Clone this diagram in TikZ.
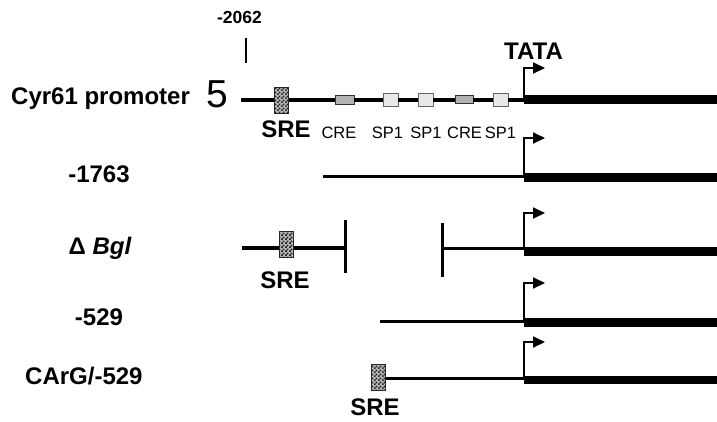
\documentclass[tikz,border=0pt]{standalone}
\usepackage{fontspec}
\setmainfont{Liberation Sans}
\usetikzlibrary{arrows.meta,patterns}
\pgfdeclarepatternformonly{finecheck}{\pgfpointorigin}{\pgfqpoint{3.6pt}{3.6pt}}{\pgfqpoint{3.6pt}{3.6pt}}{%
  \pgfpathrectangle{\pgfpointorigin}{\pgfqpoint{1.85pt}{1.85pt}}%
  \pgfpathrectangle{\pgfqpoint{1.8pt}{1.8pt}}{\pgfqpoint{1.85pt}{1.85pt}}%
  \pgfusepath{fill}}
\tikzset{
  lab/.style={font=\fontsize{24}{28}\selectfont\bfseries, inner sep=0pt},
  smalllab/.style={font=\fontsize{17.5}{20}\selectfont\bfseries, inner sep=0pt},
  sitelab/.style={font=\fontsize{16.5}{20}\selectfont, inner sep=0pt, anchor=base},
  bigfive/.style={font=\fontsize{39}{44}\selectfont, inner sep=0pt, anchor=base},
  thindna/.style={line width=3.2pt},
  thickdna/.style={line width=8.8pt},
  cutbar/.style={line width=3pt},
  tssarrow/.style={line width=1.8pt, -{Triangle[length=12pt,width=11pt]}},
  srebox/.style={draw=black!85, line width=1pt, fill=gray!55, minimum width=14pt, minimum height=26pt, inner sep=0pt,
     postaction={pattern=finecheck, pattern color=black!85}},
  crebox/.style={draw=black!80, line width=0.9pt, fill=gray!60, minimum width=19pt, minimum height=9pt, inner sep=0pt},
  spbox/.style={draw=black!60, line width=0.9pt, fill=gray!18, minimum width=15pt, minimum height=13pt, inner sep=0pt},
}
\begin{document}
\begin{tikzpicture}[x=1pt,y=-1pt]
\useasboundingbox (0,0) rectangle (717,421);

% ---------- labels on the left ----------
\node[lab, anchor=base west] (cyr) at (11,104.5) {Cyr61 promoter};
\node[bigfive] (five) at (217,107) {5};
\node[lab, anchor=base] (l1763) at (99,182) {-1763};
\node[lab, anchor=base] (lbgl) at (100,254.5) {Δ \itshape Bgl};
\node[lab, anchor=base] (l529) at (99,325) {-529};
\node[lab, anchor=base west] (lcarg) at (25,384.5) {CArG/-529};

% ---------- top marks ----------
\node[smalllab, anchor=base] (m2062) at (239.5,23.5) {-2062};
\coordinate (tickt) at (246,38);
\coordinate (tickb) at (246,63);
\draw[line width=1.3pt] (tickt) -- (tickb);
\node[lab, anchor=base west] (tata) at (504,59) {TATA};

% ---------- row 1: full promoter ----------
\coordinate (r1s) at (241,100);
\coordinate (tss1) at (524,100);
\coordinate (r1t) at (524,99.5);
\coordinate (r1e) at (717,99.5);
\coordinate (a1) at (545,68);
\node[srebox] (sre1) at (281,100) {};
\node[crebox] (cre1) at (344.5,99.5) {};
\node[spbox] (spa) at (390.5,99.5) {};
\node[spbox] (spb) at (425.5,99.5) {};
\node[crebox, minimum width=18pt, minimum height=8pt] (cre2) at (464,99.5) {};
\node[spbox] (spc) at (500.5,100) {};
\draw[thindna] (r1s) -- (sre1.west |- r1s);
\draw[thindna] (sre1.east |- r1s) -- (cre1.west |- r1s);
\draw[thindna] (cre1.east |- r1s) -- (spa.west |- r1s);
\draw[thindna] (spa.east |- r1s) -- (spb.west |- r1s);
\draw[thindna] (spb.east |- r1s) -- (cre2.west |- r1s);
\draw[thindna] (cre2.east |- r1s) -- (spc.west |- r1s);
\draw[thindna] (spc.east |- r1s) -- (tss1);
\draw[thickdna] (r1t) -- (r1e);
\draw[tssarrow] (tss1) |- (a1);
\node[lab, anchor=base] (sre1l) at (286,137) {SRE};
\node[sitelab] (cre1l) at (339,138) {CRE};
\node[sitelab] (spal) at (387.5,138) {SP1};
\node[sitelab] (spbl) at (426,138) {SP1};
\node[sitelab] (cre2l) at (464.5,138) {CRE};
\node[sitelab] (spcl) at (500.5,138) {SP1};

% ---------- row 2: -1763 ----------
\coordinate (r2s) at (323,176.5);
\coordinate (tss2) at (524,176.5);
\coordinate (r2t) at (524,177.5);
\coordinate (r2e) at (717,177.5);
\coordinate (a2) at (545,138);
\draw[thindna] (r2s) -- (tss2);
\draw[thickdna] (r2t) -- (r2e);
\draw[tssarrow] (tss2) |- (a2);

% ---------- row 3: delta Bgl ----------
\coordinate (r3s) at (242,248);
\node[srebox] (sre3) at (286,244) {};
\coordinate (bar1) at (345,248);
\coordinate (bar1t) at (345,220);
\coordinate (bar1b) at (345,273);
\coordinate (bar2) at (442,248.5);
\coordinate (bar2t) at (442,223);
\coordinate (bar2b) at (442,277);
\coordinate (tss3) at (524,248.5);
\coordinate (r3t) at (524,251.5);
\coordinate (r3e) at (717,251.5);
\coordinate (a3) at (545,213);
\draw[thindna] (r3s) -- (sre3.west |- r3s);
\draw[thindna] (sre3.east |- r3s) -- (bar1);
\draw[cutbar] (bar1t) -- (bar1b);
\draw[cutbar] (bar2t) -- (bar2b);
\draw[thindna] (bar2) -- (tss3);
\draw[thickdna] (r3t) -- (r3e);
\draw[tssarrow] (tss3) |- (a3);
\node[lab, anchor=base] (sre3l) at (285,288) {SRE};

% ---------- row 4: -529 ----------
\coordinate (r4s) at (380,321.5);
\coordinate (tss4) at (524,321.5);
\coordinate (r4t) at (524,322.5);
\coordinate (r4e) at (717,322.5);
\coordinate (a4) at (545,283);
\draw[thindna] (r4s) -- (tss4);
\draw[thickdna] (r4t) -- (r4e);
\draw[tssarrow] (tss4) |- (a4);

% ---------- row 5: CArG/-529 ----------
\node[srebox] (sre5) at (378,377) {};
\coordinate (tss5) at (524,378.5);
\coordinate (r5t) at (524,380);
\coordinate (r5e) at (717,380);
\coordinate (a5) at (545,342);
\draw[thindna] (sre5.east |- tss5) -- (tss5);
\draw[thickdna] (r5t) -- (r5e);
\draw[tssarrow] (tss5) |- (a5);
\node[lab, anchor=base] (sre5l) at (375,415) {SRE};
\end{tikzpicture}
\end{document}
